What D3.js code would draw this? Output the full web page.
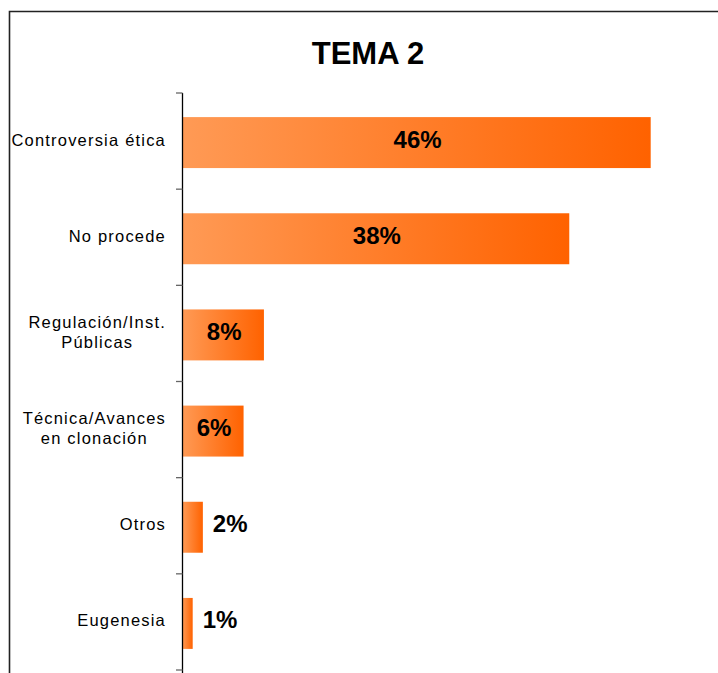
<!DOCTYPE html>
<html><head><meta charset="utf-8">
<script src="https://cdn.jsdelivr.net/npm/d3@7"></script>
<style>body{margin:0;background:#fff}svg{display:block}</style>
</head><body>
<script>
const categories = ["Controversia ética","No procede","Regulación/Inst.\nPúblicas","Técnica/Avances\nen clonación","Otros","Eugenesia"];
const values = [46,38,8,6,2,1];
const valueLabels = ["46%","38%","8%","6%","2%","1%"];
const title = "TEMA 2";

const W=718,H=673;
const svg=d3.select("body").append("svg").attr("width",W).attr("height",H);
const defs=svg.append("defs");
const grad=defs.append("linearGradient").attr("id","g").attr("x1","0%").attr("x2","100%").attr("y1","0%").attr("y2","0%");
grad.append("stop").attr("offset","0%").attr("stop-color","#FF9A55");
grad.append("stop").attr("offset","100%").attr("stop-color","#FF6200");

// frame
svg.append("path").attr("d","M9.5,"+H+"V11.5H"+W).attr("fill","none").attr("stroke","#222").attr("stroke-width",1.6);

svg.append("text").attr("x",368).attr("y",64).attr("text-anchor","middle")
  .attr("font-family","Liberation Sans, Arial, sans-serif").attr("font-weight","bold").attr("font-size",31).text(title);

const x=d3.scaleLinear().domain([0,46]).range([182.5,650.7]);
const y=d3.scaleBand().domain(categories).range([94.5,671.5]).paddingInner(0.47).paddingOuter(0.235);

// bars
svg.selectAll("rect.bar").data(values).join("rect").attr("class","bar")
  .attr("x",x(0)).attr("y",(d,i)=>y(categories[i])).attr("width",d=>x(d)-x(0)).attr("height",y.bandwidth())
  .attr("fill","url(#g)");

// axis
const axis=svg.append("g");
axis.append("line").attr("x1",182.5).attr("x2",182.5).attr("y1",93).attr("y2",H).attr("stroke","#000").attr("stroke-width",1.3);
d3.range(categories.length+1).forEach(i=>{
  const yy=93+i*(670-93)/categories.length;
  axis.append("line").attr("x1",176).attr("x2",182.5).attr("y1",yy).attr("y2",yy).attr("stroke","#666").attr("stroke-width",1.3);
});

// category labels
categories.forEach((c,i)=>{
  const lines=c.split("\n");
  const cy=y(c)+y.bandwidth()/2;
  const g=svg.append("g");
  const lh=20.5;
  const t=lines.map((l,j)=>g.append("text").attr("y",cy+(j-(lines.length-1)/2)*lh+3)
    .attr("font-family","Liberation Sans, Arial, sans-serif").attr("font-size",16.5).attr("letter-spacing",1.2)
    .attr("fill","#000").attr("text-anchor","middle").text(l));
  const mw=d3.max(t,n=>n.node().getComputedTextLength());
  t.forEach(n=>n.attr("x",166-mw/2));
});

// value labels
values.forEach((v,i)=>{
  const w=x(v)-x(0);
  const inside=w>50;
  svg.append("text").attr("x",inside?(x(0)+x(v))/2+1:x(v)+10).attr("y",y(categories[i])+y.bandwidth()/2+5)
    .attr("text-anchor",inside?"middle":"start")
    .attr("font-family","Liberation Sans, Arial, sans-serif").attr("font-weight","bold").attr("font-size",24)
    .attr("fill","#000").text(valueLabels[i]);
});
</script>
</body></html>
